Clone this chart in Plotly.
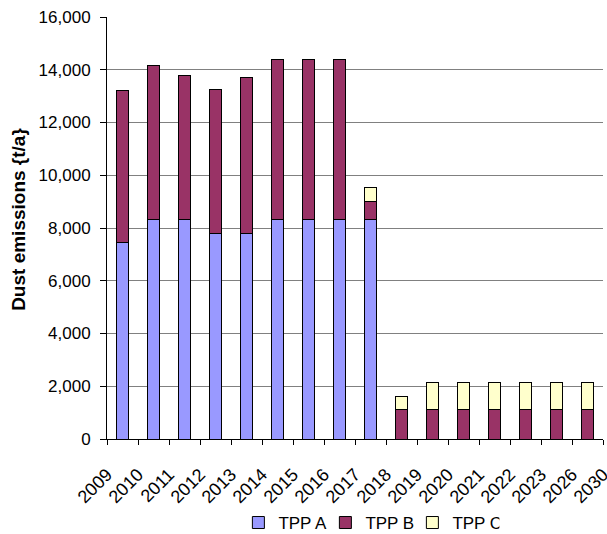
import plotly.graph_objects as go

# tick labels sit on the category boundaries (17 labels, 16 bars)
YEAR_LABELS = ["2009", "2010", "2011", "2012", "2013", "2014", "2015", "2016",
               "2017", "2018", "2019", "2020", "2021", "2022", "2023", "2026", "2030"]

TPP_A = [7450, 8330, 8330, 7800, 7800, 8330, 8330, 8330, 8330,
         0, 0, 0, 0, 0, 0, 0]
TPP_B = [5750, 5820, 5470, 5450, 5900, 6070, 6070, 6070, 670,
         1120, 1120, 1120, 1120, 1120, 1120, 1120]
TPP_C = [0, 0, 0, 0, 0, 0, 0, 0, 550,
         480, 1030, 1030, 1030, 1030, 1030, 1030]

COLORS = {"TPP A": "#9999FF", "TPP B": "#993366", "TPP C": "#FFFFCC"}
FONT = "Liberation Sans, Arial, sans-serif"

positions = [i + 0.5 for i in range(len(TPP_A))]

fig = go.Figure()
for name, values in [("TPP A", TPP_A), ("TPP B", TPP_B), ("TPP C", TPP_C)]:
    fig.add_trace(
        go.Bar(
            x=positions,
            y=values,
            name=name,
            width=0.38,
            marker={"color": COLORS[name], "line": {"color": "#000000", "width": 1}},
        )
    )

fig.update_layout(
    barmode="stack",
    width=607,
    height=534,
    paper_bgcolor="white",
    plot_bgcolor="white",
    font={"family": FONT, "color": "#000000", "size": 17},
    margin={"l": 107, "r": 4, "t": 17, "b": 95, "autoexpand": False},
    showlegend=True,
    legend={
        "orientation": "h",
        "x": 0.528,
        "xanchor": "center",
        "y": -0.199,
        "yanchor": "middle",
        "font": {"size": 17},
        "traceorder": "normal",
        "entrywidth": 42,
    },
)
fig.add_annotation(
    text="<b>Dust emissions {t/a}</b>",
    xref="paper",
    yref="paper",
    x=-0.18,
    y=0.521,
    xanchor="center",
    yanchor="middle",
    textangle=-90,
    showarrow=False,
    font={"size": 19},
)
fig.update_xaxes(
    range=[0, len(TPP_A)],
    tickmode="array",
    tickvals=list(range(len(YEAR_LABELS))),
    ticktext=YEAR_LABELS,
    tickangle=-45,
    ticks="outside",
    ticklen=5,
    tickcolor="#000000",
    ticklabelstandoff=12,
    ticklabeloverflow="allow",
    showline=True,
    linecolor="#000000",
    linewidth=1,
    showgrid=False,
    zeroline=False,
    automargin=False,
    tickfont={"size": 18},
)
fig.update_yaxes(
    range=[0, 16000],
    dtick=2000,
    tickformat=",d",
    ticks="outside",
    ticklen=6,
    tickcolor="#000000",
    ticklabelstandoff=6,
    ticklabeloverflow="allow",
    showline=True,
    linecolor="#000000",
    linewidth=1,
    showgrid=True,
    gridcolor="#808080",
    gridwidth=1,
    zeroline=False,
    automargin=False,
    tickfont={"size": 17},
)

# drop the default page margin so the figure fills the window exactly
fig.write_html(
    "out.html",
    config={"displayModeBar": False},
    post_script="document.body.style.margin='0';document.body.style.overflow='hidden';",
)
